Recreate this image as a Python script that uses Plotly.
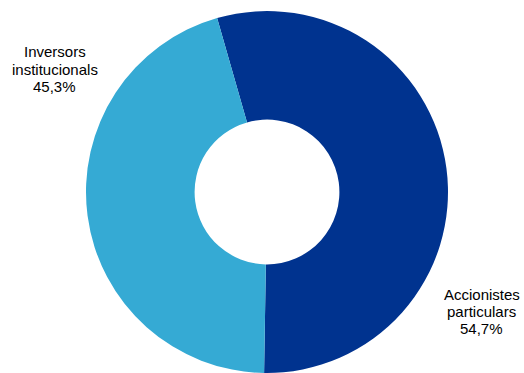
import plotly.graph_objects as go

labels = ["Accionistes\nparticulars", "Inversors\ninstitucionals"]
values = [54.7, 45.3]
colors = ["#00338F", "#35AAD4"]

fig = go.Figure(go.Pie(
    labels=[l.replace("\n", " ") for l in labels], values=values, hole=0.4,
    sort=False, direction="clockwise",
    rotation=-16, marker=dict(colors=colors, line=dict(width=0)),
    textinfo="none", hoverinfo="none",
    domain=dict(x=[(267-181)/524, (267+181)/524], y=[0, 362/373]),
))

# label anchor (center x, first-line center y) in pixels, line step
pos = [(481.5, 294.0), (54.5, 52.0)]
step = 17.3
for lab, val, (px, py) in zip(labels, values, pos):
    lines = lab.split("\n") + [f"{val:.1f}%".replace(".", ",")]
    for i, ln in enumerate(lines):
        fig.add_annotation(
            x=px/524, y=1-(py + i*step)/373, xref="paper", yref="paper",
            text=ln, showarrow=False,
            font=dict(family="Liberation Sans, Arial", size=15, color="#000000"),
            align="center", xanchor="center", yanchor="middle",
        )

fig.update_layout(width=524, height=373, margin=dict(l=0, r=0, t=0, b=0),
                  showlegend=False, paper_bgcolor="white", plot_bgcolor="white")
fig.write_html("out.html")
